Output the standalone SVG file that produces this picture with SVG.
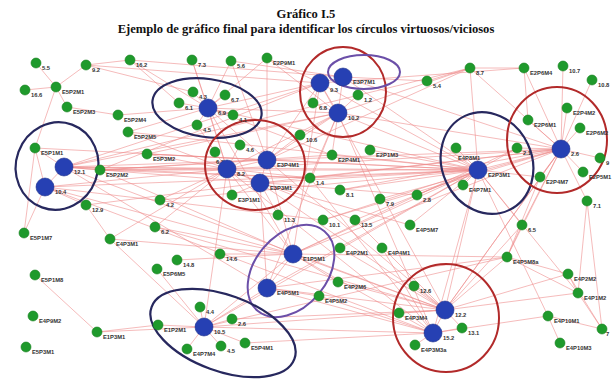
<svg xmlns="http://www.w3.org/2000/svg" width="613" height="380" viewBox="0 0 613 380">
<style>
.t{font-family:"Liberation Serif",serif;font-weight:bold;font-size:12.6px;fill:#111;text-anchor:middle}
.l{font-family:"Liberation Sans",Arial,sans-serif;font-weight:bold;font-size:5.8px;fill:#333}
.g{fill:#1f9a2c;stroke:#15801f;stroke-width:.6}
.b{fill:#2640b3;stroke:#1c2f8a;stroke-width:.6}
#edges line{stroke:#ee8a8a;stroke-opacity:.65;stroke-width:.9}
.en{fill:none;stroke:#27285e;stroke-width:2.2}
.er{fill:none;stroke:#b22a2a;stroke-width:2}
.ep{fill:none;stroke:#6b4fa8;stroke-width:2}
</style>
<rect width="613" height="380" fill="#fff"/>
<text class="t" x="306" y="18">Gráfico I.5</text>
<text class="t" x="306" y="33">Ejemplo de gráfico final para identificar los círculos virtuosos/viciosos</text>
<g id="edges">
<line x1="36" y1="63" x2="56" y2="87"/><line x1="25" y1="90" x2="56" y2="87"/><line x1="56" y1="87" x2="86" y2="65"/><line x1="86" y1="65" x2="130" y2="60"/>
<line x1="86" y1="65" x2="193" y2="92"/><line x1="56" y1="87" x2="67" y2="107"/><line x1="56" y1="87" x2="35" y2="148"/><line x1="67" y1="107" x2="118" y2="115"/>
<line x1="130" y1="60" x2="208" y2="108"/><line x1="86" y1="65" x2="320" y2="83"/><line x1="130" y1="60" x2="179" y2="103"/>
<line x1="192" y1="60" x2="208" y2="108"/><line x1="231" y1="61" x2="208" y2="108"/><line x1="267" y1="58" x2="208" y2="108"/><line x1="267" y1="58" x2="267" y2="160"/>
<line x1="192" y1="60" x2="227" y2="169"/><line x1="231" y1="61" x2="343" y2="77"/><line x1="267" y1="58" x2="320" y2="83"/>
<line x1="193" y1="92" x2="208" y2="108"/><line x1="225" y1="95" x2="208" y2="108"/><line x1="179" y1="103" x2="208" y2="108"/><line x1="233" y1="115" x2="208" y2="108"/><line x1="197" y1="125" x2="208" y2="108"/>
<line x1="208" y1="108" x2="227" y2="169"/><line x1="208" y1="108" x2="267" y2="160"/><line x1="208" y1="108" x2="320" y2="83"/><line x1="208" y1="108" x2="338" y2="113"/><line x1="208" y1="108" x2="332" y2="155"/><line x1="197" y1="125" x2="215" y2="152"/>
<line x1="118" y1="115" x2="208" y2="108"/><line x1="128" y1="132" x2="208" y2="108"/><line x1="128" y1="132" x2="227" y2="169"/><line x1="147" y1="154" x2="227" y2="169"/><line x1="147" y1="154" x2="267" y2="160"/><line x1="147" y1="154" x2="478" y2="170"/>
<line x1="100" y1="170" x2="227" y2="169"/><line x1="100" y1="170" x2="267" y2="160"/><line x1="100" y1="170" x2="332" y2="155"/><line x1="100" y1="170" x2="310" y2="178"/><line x1="100" y1="170" x2="478" y2="170"/>
<line x1="35" y1="148" x2="64" y2="167"/><line x1="35" y1="148" x2="45" y2="187"/><line x1="64" y1="167" x2="45" y2="187"/><line x1="64" y1="167" x2="100" y2="170"/><line x1="64" y1="167" x2="227" y2="169"/><line x1="64" y1="167" x2="267" y2="160"/><line x1="64" y1="167" x2="310" y2="178"/><line x1="64" y1="167" x2="417" y2="195"/><line x1="64" y1="167" x2="478" y2="170"/><line x1="64" y1="167" x2="445" y2="310"/>
<line x1="45" y1="187" x2="24" y2="233"/><line x1="45" y1="187" x2="86" y2="205"/><line x1="45" y1="187" x2="227" y2="169"/><line x1="45" y1="187" x2="323" y2="220"/><line x1="45" y1="187" x2="293" y2="254"/><line x1="45" y1="187" x2="433" y2="333"/><line x1="86" y1="205" x2="110" y2="239"/><line x1="24" y1="233" x2="35" y2="148"/><line x1="110" y1="239" x2="204" y2="327"/><line x1="110" y1="239" x2="227" y2="169"/>
<line x1="227" y1="169" x2="267" y2="160"/><line x1="227" y1="169" x2="260" y2="183"/><line x1="267" y1="160" x2="260" y2="183"/><line x1="215" y1="152" x2="227" y2="169"/><line x1="240" y1="145" x2="227" y2="169"/><line x1="232" y1="195" x2="227" y2="169"/><line x1="232" y1="195" x2="260" y2="183"/><line x1="160" y1="200" x2="227" y2="169"/><line x1="155" y1="227" x2="227" y2="169"/><line x1="278" y1="215" x2="260" y2="183"/>
<line x1="227" y1="169" x2="293" y2="254"/><line x1="267" y1="160" x2="478" y2="170"/><line x1="260" y1="183" x2="478" y2="170"/><line x1="267" y1="160" x2="320" y2="83"/><line x1="267" y1="160" x2="338" y2="113"/><line x1="267" y1="160" x2="561" y2="149"/><line x1="260" y1="183" x2="445" y2="310"/><line x1="260" y1="183" x2="267" y2="288"/><line x1="227" y1="169" x2="204" y2="327"/><line x1="267" y1="160" x2="293" y2="254"/><line x1="227" y1="169" x2="355" y2="220"/><line x1="260" y1="183" x2="410" y2="225"/>
<line x1="320" y1="83" x2="343" y2="77"/><line x1="320" y1="83" x2="338" y2="113"/><line x1="343" y1="77" x2="338" y2="113"/><line x1="358" y1="95" x2="338" y2="113"/><line x1="313" y1="103" x2="338" y2="113"/><line x1="313" y1="103" x2="320" y2="83"/>
<line x1="320" y1="83" x2="478" y2="170"/><line x1="338" y1="113" x2="478" y2="170"/><line x1="338" y1="113" x2="561" y2="149"/><line x1="343" y1="77" x2="561" y2="149"/><line x1="338" y1="113" x2="470" y2="68"/><line x1="320" y1="83" x2="524" y2="68"/><line x1="338" y1="113" x2="332" y2="155"/><line x1="338" y1="113" x2="310" y2="178"/><line x1="343" y1="77" x2="427" y2="81"/><line x1="427" y1="81" x2="470" y2="68"/><line x1="338" y1="113" x2="227" y2="169"/><line x1="320" y1="83" x2="100" y2="170"/><line x1="338" y1="113" x2="64" y2="167"/><line x1="320" y1="83" x2="445" y2="310"/>
<line x1="470" y1="68" x2="524" y2="68"/><line x1="470" y1="68" x2="561" y2="149"/><line x1="524" y1="68" x2="561" y2="149"/><line x1="563" y1="66" x2="561" y2="149"/><line x1="592" y1="80" x2="561" y2="149"/><line x1="567" y1="108" x2="561" y2="149"/><line x1="528" y1="120" x2="561" y2="149"/><line x1="580" y1="128" x2="561" y2="149"/><line x1="524" y1="68" x2="528" y2="120"/><line x1="470" y1="68" x2="478" y2="170"/>
<line x1="478" y1="170" x2="561" y2="149"/><line x1="456" y1="148" x2="478" y2="170"/><line x1="463" y1="185" x2="478" y2="170"/><line x1="517" y1="148" x2="478" y2="170"/><line x1="517" y1="148" x2="561" y2="149"/><line x1="600" y1="158" x2="561" y2="149"/><line x1="583" y1="172" x2="561" y2="149"/><line x1="540" y1="177" x2="561" y2="149"/><line x1="540" y1="177" x2="478" y2="170"/><line x1="587" y1="201" x2="561" y2="149"/><line x1="522" y1="225" x2="478" y2="170"/><line x1="522" y1="225" x2="561" y2="149"/><line x1="587" y1="201" x2="602" y2="329"/>
<line x1="478" y1="170" x2="445" y2="310"/><line x1="561" y1="149" x2="445" y2="310"/><line x1="478" y1="170" x2="293" y2="254"/><line x1="561" y1="149" x2="293" y2="254"/><line x1="478" y1="170" x2="310" y2="178"/><line x1="561" y1="149" x2="340" y2="190"/>
<line x1="300" y1="135" x2="267" y2="160"/><line x1="300" y1="135" x2="338" y2="113"/><line x1="332" y1="155" x2="478" y2="170"/><line x1="370" y1="150" x2="478" y2="170"/><line x1="310" y1="178" x2="227" y2="169"/><line x1="340" y1="190" x2="478" y2="170"/><line x1="380" y1="199" x2="561" y2="149"/><line x1="417" y1="195" x2="478" y2="170"/><line x1="323" y1="220" x2="478" y2="170"/><line x1="355" y1="220" x2="445" y2="310"/><line x1="410" y1="225" x2="478" y2="170"/><line x1="340" y1="248" x2="445" y2="310"/><line x1="382" y1="248" x2="433" y2="333"/><line x1="310" y1="178" x2="433" y2="333"/>
<line x1="293" y1="254" x2="267" y2="288"/><line x1="220" y1="254" x2="293" y2="254"/><line x1="177" y1="260" x2="293" y2="254"/><line x1="157" y1="269" x2="204" y2="327"/><line x1="293" y1="254" x2="204" y2="327"/><line x1="267" y1="288" x2="204" y2="327"/><line x1="267" y1="288" x2="445" y2="310"/><line x1="293" y1="254" x2="445" y2="310"/><line x1="293" y1="254" x2="433" y2="333"/><line x1="267" y1="288" x2="433" y2="333"/><line x1="267" y1="288" x2="478" y2="170"/>
<line x1="200" y1="307" x2="204" y2="327"/><line x1="232" y1="319" x2="204" y2="327"/><line x1="158" y1="325" x2="204" y2="327"/><line x1="187" y1="349" x2="204" y2="327"/><line x1="221" y1="346" x2="204" y2="327"/><line x1="245" y1="343" x2="204" y2="327"/><line x1="204" y1="327" x2="445" y2="310"/><line x1="204" y1="327" x2="433" y2="333"/><line x1="204" y1="327" x2="478" y2="170"/><line x1="158" y1="325" x2="97" y2="332"/><line x1="97" y1="332" x2="204" y2="327"/><line x1="35" y1="275" x2="97" y2="332"/><line x1="245" y1="343" x2="433" y2="333"/><line x1="232" y1="319" x2="445" y2="310"/>
<line x1="338" y1="282" x2="445" y2="310"/><line x1="319" y1="296" x2="433" y2="333"/><line x1="338" y1="282" x2="293" y2="254"/><line x1="319" y1="296" x2="267" y2="288"/>
<line x1="414" y1="286" x2="445" y2="310"/><line x1="399" y1="313" x2="445" y2="310"/><line x1="433" y1="333" x2="445" y2="310"/><line x1="415" y1="345" x2="433" y2="333"/><line x1="462" y1="328" x2="445" y2="310"/><line x1="433" y1="333" x2="462" y2="328"/>
<line x1="445" y1="310" x2="507" y2="257"/><line x1="445" y1="310" x2="568" y2="274"/><line x1="445" y1="310" x2="578" y2="293"/><line x1="433" y1="333" x2="548" y2="316"/><line x1="507" y1="257" x2="578" y2="293"/><line x1="568" y1="274" x2="578" y2="293"/><line x1="548" y1="316" x2="602" y2="329"/><line x1="578" y1="293" x2="602" y2="329"/><line x1="560" y1="343" x2="548" y2="316"/><line x1="568" y1="274" x2="602" y2="329"/><line x1="507" y1="257" x2="561" y2="149"/><line x1="445" y1="310" x2="561" y2="149"/><line x1="433" y1="333" x2="478" y2="170"/><line x1="507" y1="257" x2="568" y2="274"/>
<line x1="64" y1="167" x2="320" y2="83"/><line x1="45" y1="187" x2="478" y2="170"/><line x1="64" y1="167" x2="267" y2="288"/><line x1="147" y1="154" x2="338" y2="113"/><line x1="100" y1="170" x2="293" y2="254"/><line x1="160" y1="200" x2="478" y2="170"/><line x1="155" y1="227" x2="293" y2="254"/><line x1="155" y1="227" x2="445" y2="310"/><line x1="110" y1="239" x2="293" y2="254"/><line x1="86" y1="205" x2="260" y2="183"/>
<line x1="227" y1="169" x2="561" y2="149"/><line x1="260" y1="183" x2="561" y2="149"/><line x1="267" y1="160" x2="470" y2="68"/><line x1="338" y1="113" x2="433" y2="333"/><line x1="320" y1="83" x2="293" y2="254"/><line x1="310" y1="178" x2="561" y2="149"/><line x1="323" y1="220" x2="561" y2="149"/><line x1="355" y1="220" x2="478" y2="170"/><line x1="293" y1="254" x2="507" y2="257"/><line x1="267" y1="288" x2="507" y2="257"/>
<line x1="204" y1="327" x2="507" y2="257"/><line x1="293" y1="254" x2="517" y2="148"/><line x1="478" y1="170" x2="578" y2="293"/><line x1="522" y1="225" x2="445" y2="310"/><line x1="522" y1="225" x2="507" y2="257"/><line x1="227" y1="169" x2="433" y2="333"/><line x1="267" y1="160" x2="445" y2="310"/><line x1="208" y1="108" x2="478" y2="170"/><line x1="208" y1="108" x2="293" y2="254"/><line x1="128" y1="132" x2="478" y2="170"/>
<line x1="35" y1="148" x2="267" y2="160"/><line x1="64" y1="167" x2="470" y2="68"/><line x1="343" y1="77" x2="478" y2="170"/><line x1="338" y1="113" x2="267" y2="288"/><line x1="267" y1="58" x2="338" y2="113"/><line x1="231" y1="61" x2="267" y2="160"/><line x1="130" y1="60" x2="343" y2="77"/><line x1="478" y1="170" x2="548" y2="316"/><line x1="587" y1="201" x2="578" y2="293"/><line x1="540" y1="177" x2="507" y2="257"/>
</g>
<g id="circles">
<ellipse class="en" cx="207" cy="108" rx="55" ry="29" transform="rotate(8 207 108)"/>
<ellipse class="en" cx="57" cy="166" rx="41" ry="44" transform="rotate(20 57 166)"/>
<ellipse class="er" cx="343" cy="92" rx="43" ry="45"/>
<ellipse class="ep" cx="364" cy="72" rx="36" ry="17"/>
<ellipse class="er" cx="255" cy="165" rx="50" ry="45"/>
<ellipse class="en" cx="487" cy="163" rx="45" ry="52" transform="rotate(-25 487 163)"/>
<ellipse class="er" cx="557" cy="140" rx="50" ry="53"/>
<ellipse class="ep" cx="291" cy="271" rx="36" ry="52" transform="rotate(40 291 271)"/>
<ellipse class="en" cx="223" cy="333" rx="76" ry="38" transform="rotate(20 223 333)"/>
<ellipse class="er" cx="446" cy="318" rx="53" ry="54"/>
</g>
<g id="n_a1"><circle class="g" cx="36" cy="63" r="5"/><text class="l" x="42" y="70">5.5</text></g>
<g id="n_a2"><circle class="g" cx="86" cy="65" r="5"/><text class="l" x="92" y="72">9.2</text></g>
<g id="n_a3"><circle class="g" cx="130" cy="60" r="5"/><text class="l" x="136" y="67">16.2</text></g>
<g id="n_a4"><circle class="g" cx="25" cy="90" r="5"/><text class="l" x="31" y="97">16.6</text></g>
<g id="n_a5"><circle class="g" cx="56" cy="87" r="5"/><text class="l" x="62" y="94">E5P2M1</text></g>
<g id="n_a6"><circle class="g" cx="67" cy="107" r="5"/><text class="l" x="73" y="114">E5P2M3</text></g>
<g id="n_a7"><circle class="g" cx="118" cy="115" r="5"/><text class="l" x="124" y="122">E5P2M4</text></g>
<g id="n_a8"><circle class="g" cx="128" cy="132" r="5"/><text class="l" x="134" y="139">E5P2M5</text></g>
<g id="n_a9"><circle class="g" cx="147" cy="154" r="5"/><text class="l" x="153" y="161">E5P3M2</text></g>
<g id="n_a10"><circle class="g" cx="100" cy="170" r="5"/><text class="l" x="106" y="177">E5P2M2</text></g>
<g id="n_b1"><circle class="g" cx="192" cy="60" r="5"/><text class="l" x="198" y="67">7.3</text></g>
<g id="n_b2"><circle class="g" cx="231" cy="61" r="5"/><text class="l" x="237" y="68">5.6</text></g>
<g id="n_b3"><circle class="g" cx="267" cy="58" r="5"/><text class="l" x="273" y="65">E2P9M1</text></g>
<g id="n_b4"><circle class="g" cx="193" cy="92" r="5"/><text class="l" x="199" y="99">4.3</text></g>
<g id="n_b5"><circle class="g" cx="225" cy="95" r="5"/><text class="l" x="231" y="102">6.7</text></g>
<g id="n_b6"><circle class="g" cx="179" cy="103" r="5"/><text class="l" x="185" y="110">6.1</text></g>
<g id="n_b7"><circle class="b" cx="208" cy="108" r="9"/><text class="l" x="218" y="115">6.9</text></g>
<g id="n_b8"><circle class="g" cx="233" cy="115" r="5"/><text class="l" x="239" y="122">4.1</text></g>
<g id="n_b9"><circle class="g" cx="197" cy="125" r="5"/><text class="l" x="203" y="132">4.5</text></g>
<g id="n_c1"><circle class="b" cx="320" cy="83" r="9"/><text class="l" x="330" y="92">9.3</text></g>
<g id="n_c2"><circle class="b" cx="343" cy="77" r="9"/><text class="l" x="353" y="84">E3P7M1</text></g>
<g id="n_c3"><circle class="g" cx="358" cy="95" r="5"/><text class="l" x="364" y="102">1.2</text></g>
<g id="n_c4"><circle class="g" cx="313" cy="103" r="5"/><text class="l" x="319" y="110">6.8</text></g>
<g id="n_c5"><circle class="b" cx="338" cy="113" r="9"/><text class="l" x="348" y="120">10.2</text></g>
<g id="n_c6"><circle class="g" cx="427" cy="81" r="5"/><text class="l" x="433" y="88">5.4</text></g>
<g id="n_d1"><circle class="g" cx="470" cy="68" r="5"/><text class="l" x="476" y="75">8.7</text></g>
<g id="n_d2"><circle class="g" cx="524" cy="68" r="5"/><text class="l" x="530" y="75">E2P6M4</text></g>
<g id="n_d3"><circle class="g" cx="563" cy="66" r="5"/><text class="l" x="569" y="73">10.7</text></g>
<g id="n_d4"><circle class="g" cx="592" cy="80" r="5"/><text class="l" x="598" y="87">10.8</text></g>
<g id="n_d5"><circle class="g" cx="567" cy="108" r="5"/><text class="l" x="573" y="115">E2P4M2</text></g>
<g id="n_d6"><circle class="g" cx="528" cy="120" r="5"/><text class="l" x="534" y="127">E2P6M1</text></g>
<g id="n_d7"><circle class="g" cx="580" cy="128" r="5"/><text class="l" x="586" y="135">E2P6M2</text></g>
<g id="n_e1"><circle class="g" cx="35" cy="148" r="5"/><text class="l" x="41" y="155">E5P1M1</text></g>
<g id="n_e2"><circle class="b" cx="64" cy="167" r="9"/><text class="l" x="74" y="174">12.1</text></g>
<g id="n_e3"><circle class="b" cx="45" cy="187" r="9"/><text class="l" x="55" y="194">10.4</text></g>
<g id="n_e4"><circle class="g" cx="86" cy="205" r="5"/><text class="l" x="92" y="212">12.9</text></g>
<g id="n_e5"><circle class="g" cx="24" cy="233" r="5"/><text class="l" x="30" y="240">E5P1M7</text></g>
<g id="n_e6"><circle class="g" cx="110" cy="239" r="5"/><text class="l" x="116" y="246">E4P3M1</text></g>
<g id="n_f1"><circle class="g" cx="215" cy="152" r="5"/><text class="l" x="216" y="164">6.3</text></g>
<g id="n_f2"><circle class="g" cx="240" cy="145" r="5"/><text class="l" x="246" y="152">4.6</text></g>
<g id="n_f3"><circle class="b" cx="227" cy="169" r="9"/><text class="l" x="237" y="176">8.2</text></g>
<g id="n_f4"><circle class="b" cx="267" cy="160" r="9"/><text class="l" x="277" y="167">E3P4M1</text></g>
<g id="n_f5"><circle class="b" cx="260" cy="183" r="9"/><text class="l" x="270" y="190">E3P3M1</text></g>
<g id="n_f6"><circle class="g" cx="232" cy="195" r="5"/><text class="l" x="238" y="202">E3P1M1</text></g>
<g id="n_f7"><circle class="g" cx="160" cy="200" r="5"/><text class="l" x="166" y="207">4.2</text></g>
<g id="n_f8"><circle class="g" cx="155" cy="227" r="5"/><text class="l" x="161" y="234">6.2</text></g>
<g id="n_f9"><circle class="g" cx="278" cy="215" r="5"/><text class="l" x="284" y="222">11.3</text></g>
<g id="n_g1"><circle class="g" cx="300" cy="135" r="5"/><text class="l" x="306" y="142">10.6</text></g>
<g id="n_g2"><circle class="g" cx="332" cy="155" r="5"/><text class="l" x="338" y="162">E2P4M1</text></g>
<g id="n_g3"><circle class="g" cx="370" cy="150" r="5"/><text class="l" x="376" y="157">E2P1M3</text></g>
<g id="n_g4"><circle class="g" cx="310" cy="178" r="5"/><text class="l" x="316" y="185">1.4</text></g>
<g id="n_g5"><circle class="g" cx="340" cy="190" r="5"/><text class="l" x="346" y="197">8.1</text></g>
<g id="n_g6"><circle class="g" cx="380" cy="199" r="5"/><text class="l" x="386" y="206">7.9</text></g>
<g id="n_g7"><circle class="g" cx="417" cy="195" r="5"/><text class="l" x="423" y="202">2.8</text></g>
<g id="n_g8"><circle class="g" cx="323" cy="220" r="5"/><text class="l" x="329" y="227">10.1</text></g>
<g id="n_g9"><circle class="g" cx="355" cy="220" r="5"/><text class="l" x="361" y="227">13.5</text></g>
<g id="n_g10"><circle class="g" cx="410" cy="225" r="5"/><text class="l" x="416" y="232">E4P5M7</text></g>
<g id="n_g11"><circle class="g" cx="340" cy="248" r="5"/><text class="l" x="346" y="255">E4P2M1</text></g>
<g id="n_g12"><circle class="g" cx="382" cy="248" r="5"/><text class="l" x="388" y="255">E4P4M1</text></g>
<g id="n_h1"><circle class="g" cx="456" cy="148" r="5"/><text class="l" x="458" y="160">E4P8M1</text></g>
<g id="n_h2"><circle class="b" cx="478" cy="170" r="9"/><text class="l" x="488" y="177">E2P3M1</text></g>
<g id="n_h3"><circle class="g" cx="463" cy="185" r="5"/><text class="l" x="469" y="192">E4P7M1</text></g>
<g id="n_h4"><circle class="g" cx="517" cy="148" r="5"/><text class="l" x="523" y="155">2.1</text></g>
<g id="n_h5"><circle class="b" cx="561" cy="149" r="9"/><text class="l" x="571" y="156">2.6</text></g>
<g id="n_h6"><circle class="g" cx="600" cy="158" r="5"/><text class="l" x="606" y="165">9</text></g>
<g id="n_h7"><circle class="g" cx="583" cy="172" r="5"/><text class="l" x="589" y="179">E2P5M1</text></g>
<g id="n_h8"><circle class="g" cx="540" cy="177" r="5"/><text class="l" x="546" y="184">E2P4M7</text></g>
<g id="n_h9"><circle class="g" cx="587" cy="201" r="5"/><text class="l" x="593" y="208">7.1</text></g>
<g id="n_h10"><circle class="g" cx="522" cy="225" r="5"/><text class="l" x="528" y="232">6.5</text></g>
<g id="n_i1"><circle class="b" cx="293" cy="254" r="9"/><text class="l" x="303" y="261">E1P5M1</text></g>
<g id="n_i2"><circle class="b" cx="267" cy="288" r="9"/><text class="l" x="277" y="295">E4P5M1</text></g>
<g id="n_i3"><circle class="g" cx="220" cy="254" r="5"/><text class="l" x="226" y="261">14.6</text></g>
<g id="n_i4"><circle class="g" cx="177" cy="260" r="5"/><text class="l" x="183" y="267">14.8</text></g>
<g id="n_i5"><circle class="g" cx="157" cy="269" r="5"/><text class="l" x="163" y="276">E5P6M5</text></g>
<g id="n_j1"><circle class="g" cx="200" cy="307" r="5"/><text class="l" x="206" y="314">4.4</text></g>
<g id="n_j2"><circle class="b" cx="204" cy="327" r="9"/><text class="l" x="214" y="334">10.5</text></g>
<g id="n_j3"><circle class="g" cx="232" cy="319" r="5"/><text class="l" x="238" y="326">2.6</text></g>
<g id="n_j4"><circle class="g" cx="158" cy="325" r="5"/><text class="l" x="164" y="332">E1P2M1</text></g>
<g id="n_j5"><circle class="g" cx="187" cy="349" r="5"/><text class="l" x="193" y="356">E4P7M4</text></g>
<g id="n_j6"><circle class="g" cx="221" cy="346" r="5"/><text class="l" x="227" y="353">4.5</text></g>
<g id="n_j7"><circle class="g" cx="245" cy="343" r="5"/><text class="l" x="251" y="350">E5P4M1</text></g>
<g id="n_k1"><circle class="g" cx="35" cy="275" r="5"/><text class="l" x="41" y="282">E5P1M8</text></g>
<g id="n_k2"><circle class="g" cx="33" cy="316" r="5"/><text class="l" x="39" y="323">E4P9M2</text></g>
<g id="n_k3"><circle class="g" cx="26" cy="347" r="5"/><text class="l" x="32" y="354">E5P3M1</text></g>
<g id="n_k4"><circle class="g" cx="97" cy="332" r="5"/><text class="l" x="103" y="339">E1P3M1</text></g>
<g id="n_l1"><circle class="g" cx="338" cy="282" r="5"/><text class="l" x="344" y="289">E4P2M6</text></g>
<g id="n_l2"><circle class="g" cx="319" cy="296" r="5"/><text class="l" x="325" y="303">E4P5M2</text></g>
<g id="n_m1"><circle class="g" cx="414" cy="286" r="5"/><text class="l" x="420" y="293">12.6</text></g>
<g id="n_m2"><circle class="g" cx="399" cy="313" r="5"/><text class="l" x="405" y="320">E4P3M4</text></g>
<g id="n_m3"><circle class="b" cx="445" cy="310" r="9"/><text class="l" x="455" y="317">12.2</text></g>
<g id="n_m4"><circle class="b" cx="433" cy="333" r="9"/><text class="l" x="443" y="340">15.2</text></g>
<g id="n_m5"><circle class="g" cx="415" cy="345" r="5"/><text class="l" x="421" y="352">E4P3M3a</text></g>
<g id="n_m6"><circle class="g" cx="462" cy="328" r="5"/><text class="l" x="468" y="335">13.1</text></g>
<g id="n_n1"><circle class="g" cx="507" cy="257" r="5"/><text class="l" x="513" y="264">E4P5M8a</text></g>
<g id="n_n2"><circle class="g" cx="568" cy="274" r="5"/><text class="l" x="574" y="281">E4P2M2</text></g>
<g id="n_n3"><circle class="g" cx="578" cy="293" r="5"/><text class="l" x="584" y="300">E4P1M2</text></g>
<g id="n_n4"><circle class="g" cx="548" cy="316" r="5"/><text class="l" x="554" y="323">E4P10M1</text></g>
<g id="n_n5"><circle class="g" cx="602" cy="329" r="5"/><text class="l" x="606" y="336">7</text></g>
<g id="n_n6"><circle class="g" cx="560" cy="343" r="5"/><text class="l" x="566" y="350">E4P10M3</text></g>
</svg>
